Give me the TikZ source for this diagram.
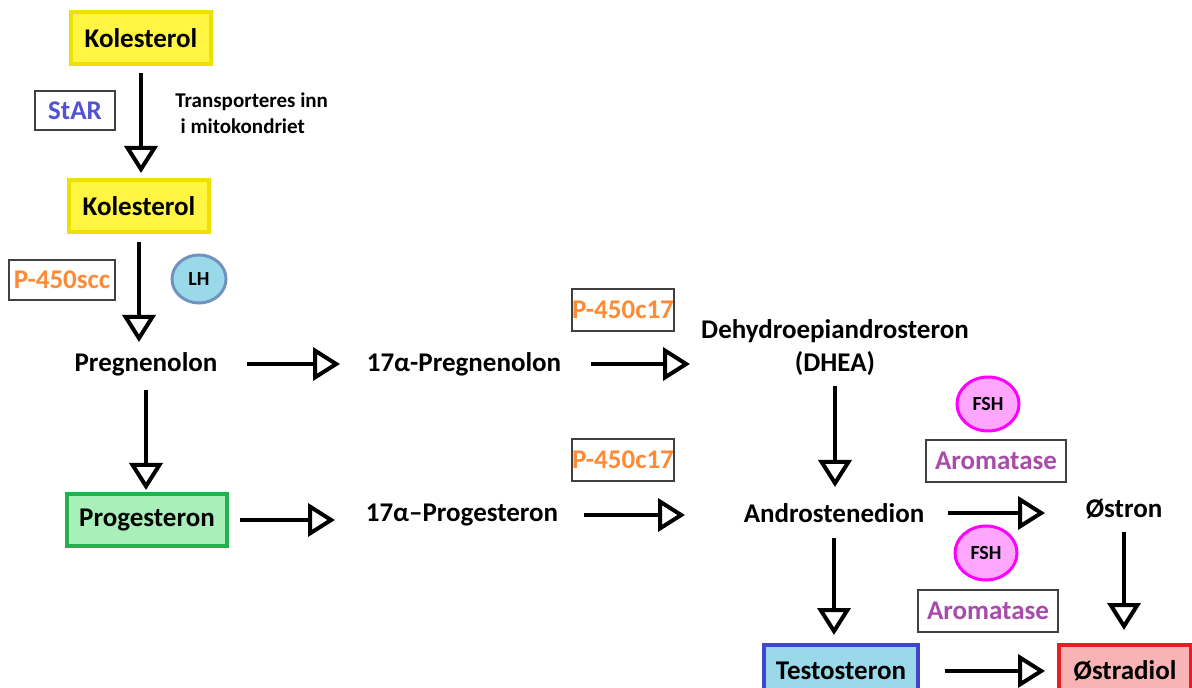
\documentclass[tikz,border=0pt]{standalone}
\usepackage{fontspec}
\setmainfont{Carlito}
\usetikzlibrary{arrows.meta,shapes.geometric}
\definecolor{kolfill}{HTML}{FFF542}
\definecolor{koldraw}{HTML}{EEE000}
\definecolor{progfill}{HTML}{A8EFBA}
\definecolor{progdraw}{HTML}{22B14C}
\definecolor{testfill}{HTML}{99D9EA}
\definecolor{testdraw}{HTML}{3F48CC}
\definecolor{estrfill}{HTML}{F8B4B4}
\definecolor{estrdraw}{HTML}{ED1C24}
\definecolor{lhdraw}{HTML}{7092BE}
\definecolor{fshfill}{HTML}{FFA6FF}
\definecolor{fshdraw}{HTML}{FF00FF}
\definecolor{starcol}{HTML}{5252D4}
\definecolor{p450col}{HTML}{FF8A35}
\definecolor{aromcol}{HTML}{A84CAA}
\definecolor{enzdraw}{HTML}{404040}
\begin{document}
\begin{tikzpicture}
  [x=0.5pt,y=-0.5pt,
   every node/.style={font=\fontsize{13.5}{16.5}\selectfont\bfseries,inner sep=0pt},
   hormone/.style={draw,line width=2pt,minimum height=26pt},
   enzyme/.style={draw=enzdraw,line width=1pt,fill=white,minimum height=21pt},
   signal/.style={ellipse,line width=1.5pt,font=\fontsize{10}{12}\selectfont\bfseries},
   flow/.style={line width=2pt,-{Triangle[open,length=13.5pt,width=16.5pt]}}]
  \useasboundingbox (0,0) rectangle (1192,688);
  \clip (0,0) rectangle (1192,688);

  \node[hormone,fill=kolfill,draw=koldraw,minimum width=70pt] (kol1) at (141,38) {Kolesterol};
  \node[hormone,fill=kolfill,draw=koldraw,minimum width=70pt] (kol2) at (139,206) {Kolesterol};
  \node[enzyme,text=starcol,minimum width=40pt,minimum height=19.5pt] (star) at (75,111) {StAR};
  \node[anchor=west,align=left,font=\fontsize{10.5}{13}\selectfont\bfseries] (transp) at (175,113)
    {Transporteres inn\\\hspace{0.25em}i mitokondriet};
  \node[enzyme,text=p450col,minimum width=53pt,minimum height=20pt] (scc) at (62,280) {P-450scc};
  \node[signal,fill=testfill,draw=lhdraw,minimum width=27pt,minimum height=24pt] (lh) at (199,279) {LH};
  \node (preg) at (146,364) {Pregnenolon};
  \node (p17) at (464,364) {17α-Pregnenolon};
  \node[enzyme,text=p450col,minimum width=49pt] (c17a) at (623,310) {P-450c17};
  \node[align=center] (dhea) at (835,348) {Dehydroepiandrosteron\\(DHEA)};
  \node[hormone,fill=progfill,draw=progdraw,minimum width=80pt] (prog) at (147,520) {Progesteron};
  \node (pg17) at (462,515) {17α–Progesteron};
  \node[enzyme,text=p450col,minimum width=49pt] (c17b) at (623,460) {P-450c17};
  \node (andro) at (834,513) {Androstenedion};
  \node[signal,fill=fshfill,draw=fshdraw,minimum width=31pt,minimum height=27pt] (fsha) at (988,404) {FSH};
  \node[enzyme,text=aromcol,minimum width=70pt] (aroma) at (996,461) {Aromatase};
  \node (ostron) at (1124,509) {Østron};
  \node[signal,fill=fshfill,draw=fshdraw,minimum width=31pt,minimum height=27pt] (fshb) at (986,553) {FSH};
  \node[enzyme,text=aromcol,minimum width=70pt] (aromb) at (988,611) {Aromatase};
  \node[hormone,fill=testfill,draw=testdraw,minimum width=77pt] (testo) at (841,671) {Testosteron};
  \node[hormone,fill=estrfill,draw=estrdraw,minimum width=66pt] (ostradiol) at (1125,671) {Østradiol};

  % vertical steps
  \foreach \from/\to/\s/\e in {kol1/kol2/17.5/16.5, kol2/preg/18/11, preg/prog/13/15,
    dhea/andro/19/13, andro/testo/12.5/18, ostron/ostradiol/11.5/20.5}
    \draw[flow,shorten <=\s pt,shorten >=\e pt] (\from.center) -- (\from.center |- \to.center);
  % horizontal steps
  \foreach \from/\to/\s/\e in {preg/p17/50.5/62, p17/dhea/63.5/72.5, prog/pg17/46.5/63.5,
    pg17/andro/61/74.5, andro/ostron/57/39.5, testo/ostradiol/52/40}
    \draw[flow,shorten <=\s pt,shorten >=\e pt] (\from.center) -- (\from.center -| \to.center);

\end{tikzpicture}
\end{document}
